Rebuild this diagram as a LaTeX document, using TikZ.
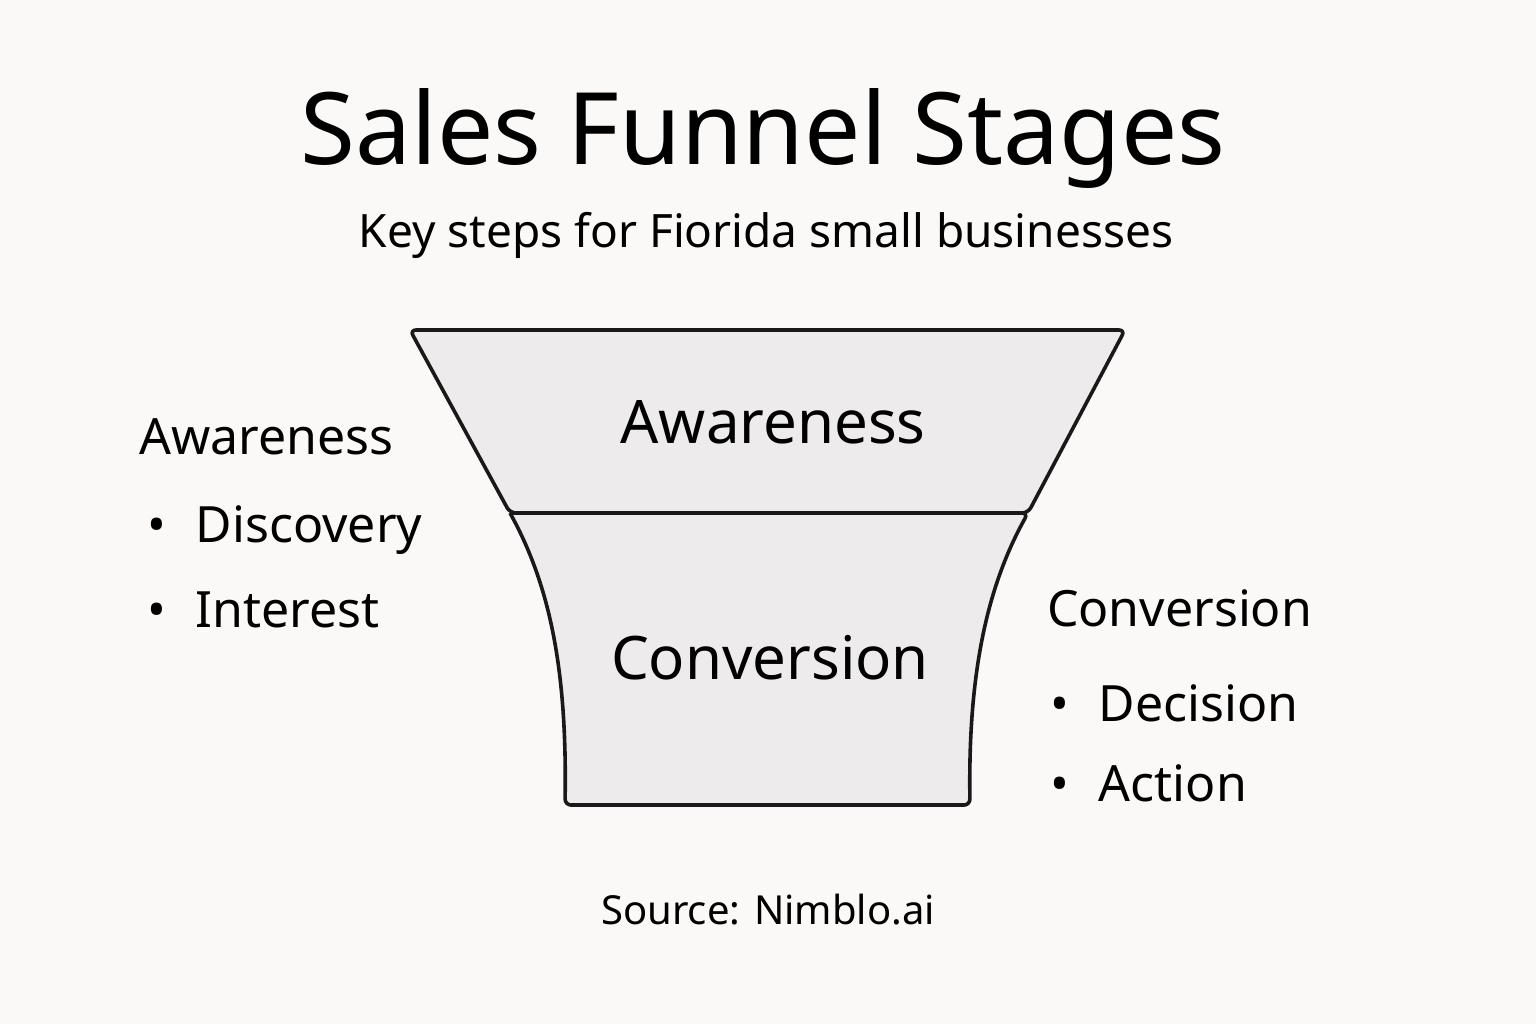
\documentclass[tikz,border=0pt]{standalone}
\usepackage{fontspec}
\setmainfont{Noto Sans}
\usetikzlibrary{positioning}
\definecolor{bgcol}{RGB}{250,249,247}
\definecolor{funcol}{RGB}{237,235,235}
\begin{document}
\begin{tikzpicture}[x=0.5pt,y=-0.5pt,
  funnel/.style={draw=black!90, line width=1.8pt, fill=funcol, rounded corners=3pt},
  stage/.style={font=\fontsize{30}{36}\selectfont\bfseries},
  head/.style={font=\fontsize{25}{30}\selectfont\bfseries, anchor=west},
  item/.style={font=\fontsize{25}{30}\selectfont, anchor=west},
]
\fill[bgcol] (0,0) rectangle (1536,1024);
\useasboundingbox (0,0) rectangle (1536,1024);

\node (title) at (763,138) {\fontsize{50}{60}\selectfont Sales Funnel Stages};
\node (sub) at (766,235) {\fontsize{23}{28}\selectfont Key steps for Fiorida small businesses};

% Funnel
\draw[funnel] (410,330) -- (1125,330) -- (1028,513) -- (510,513) -- cycle;
\draw[funnel] (510,513) -- (1028,513)
  .. controls (985,590) and (968,680) .. (970,805)
  -- (565,805)
  .. controls (567,680) and (553,590) .. (510,513);
\node[stage] (aw) at (773,422) {Awareness};
\node[stage] (cv) at (770,658) {Conversion};

% Left list
\node[head] (awh) at (132,437) {Awareness};
\node[item] (disc) at (140,530) {\textbullet\hspace{0.6em}Discovery};
\node[item] (inter) at (140,610) {\textbullet\hspace{0.6em}Interest};

% Right list
\node[head] (cvh) at (1040,608) {Conversion};
\node[item] (dec) at (1043,703) {\textbullet\hspace{0.6em}Decision};
\node[item] (act) at (1043,783) {\textbullet\hspace{0.6em}Action};

\node (src) at (768,910) {\fontsize{20}{24}\selectfont Source: Nimblo.ai};
\end{tikzpicture}
\end{document}
